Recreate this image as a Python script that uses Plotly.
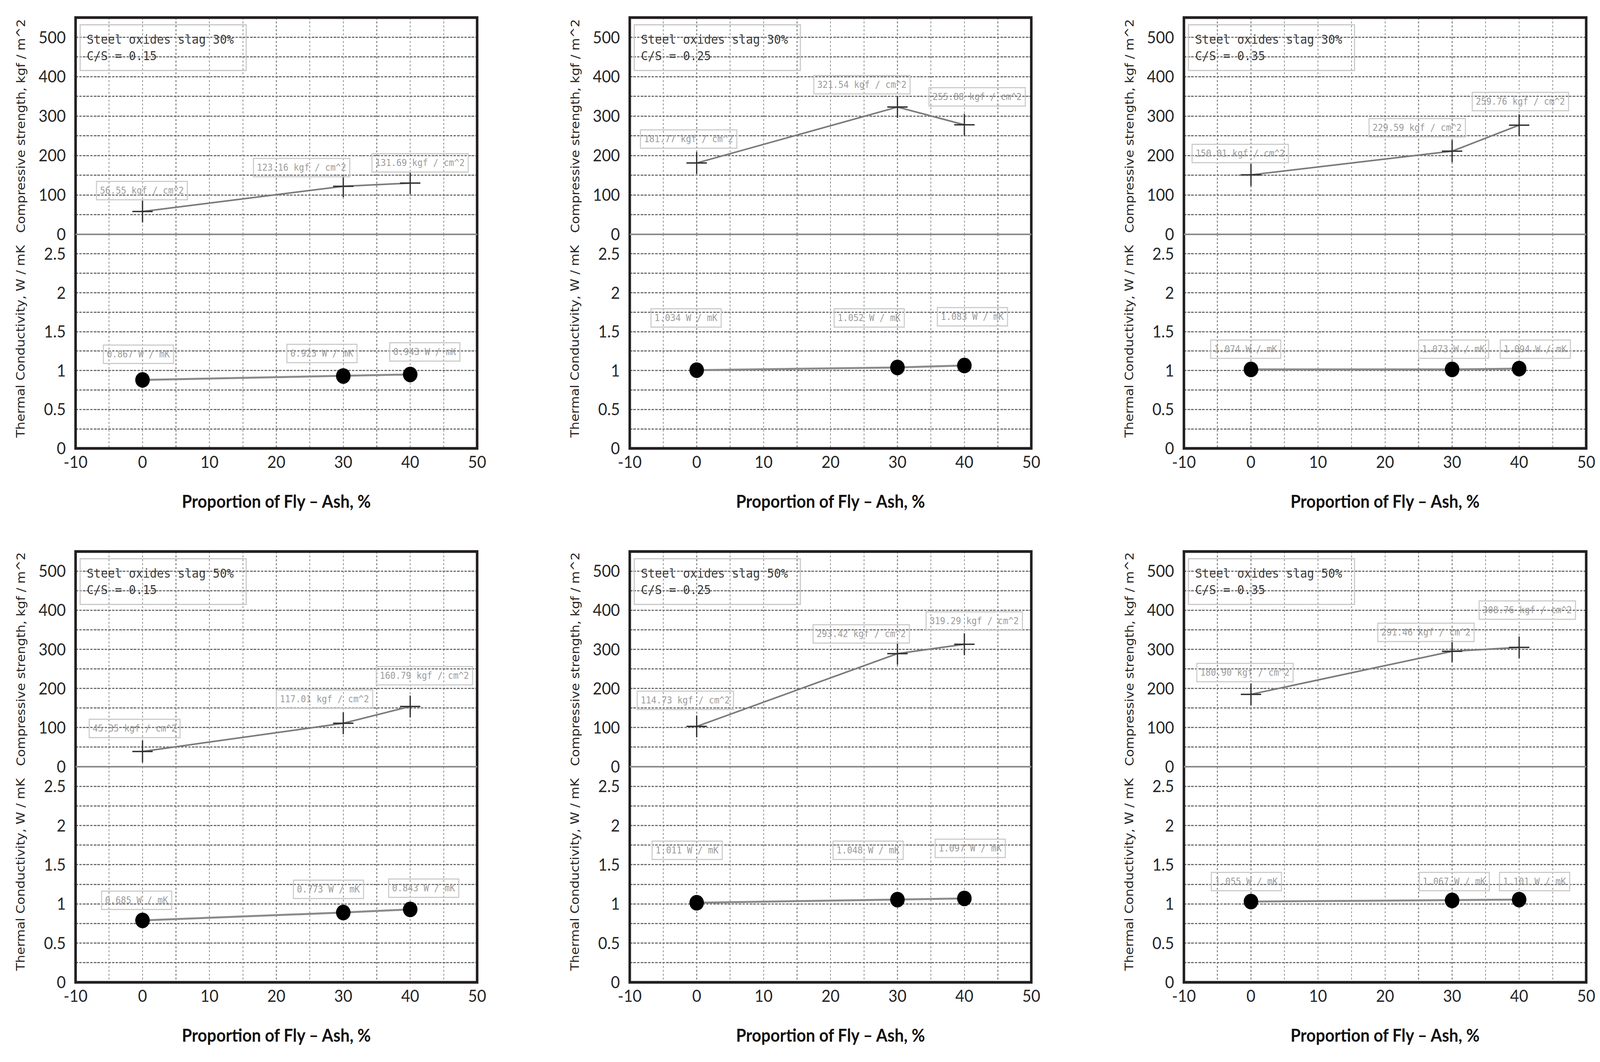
import plotly.graph_objects as go

# ---------------- data ----------------
fly_ash = [0, 30, 40]
slag_share = ["30%", "30%", "30%", "50%", "50%", "50%"]
cs_ratio = ["0.15", "0.25", "0.35", "0.15", "0.25", "0.35"]
x_tick_vals = [-10, 0, 10, 20, 30, 40, 50]
x_tick_text = ["-10", "0", "10", "20", "30", "40", "50"]

# plotted compressive strength (kgf/cm^2)
strength = [
    [58, 122, 130],
    [181, 323, 278],
    [151, 211, 277],
    [39, 111, 154],
    [103, 289, 313],
    [185, 295, 305],
]
strength_text = [
    ["56.55", "123.16", "131.69"],
    ["181.77", "321.54", "255.88"],
    ["150.01", "229.59", "259.76"],
    ["45.35", "117.01", "160.79"],
    ["114.73", "293.42", "319.29"],
    ["180.90", "291.46", "308.76"],
]
# plotted thermal conductivity (W/mK)
conductivity = [
    [0.88, 0.93, 0.95],
    [1.005, 1.04, 1.065],
    [1.015, 1.015, 1.025],
    [0.79, 0.89, 0.93],
    [1.015, 1.055, 1.07],
    [1.03, 1.045, 1.055],
]
conductivity_text = [
    ["0.867", "0.923", "0.943"],
    ["1.034", "1.052", "1.083"],
    ["1.074", "1.073", "1.094"],
    ["0.685", "0.773", "0.843"],
    ["1.011", "1.048", "1.097"],
    ["1.055", "1.067", "1.101"],
]

# ---------------- label placement (layout) ----------------
strength_label_x = [[-0.1, 23.8, 41.5], [-1.2, 24.7, 41.9], [-1.6, 24.8, 40.2],
                    [-1.2, 27.2, 42.1], [-1.7, 24.6, 41.5], [-0.9, 26.1, 41.2]]
strength_label_y = [[111, 169, 181], [242, 380, 349], [205, 271, 337],
                    [98, 173, 233], [170, 339, 372], [241, 343, 400]]
cond_label_x = [[-0.6, 26.8, 42.2], [-1.6, 25.8, 41.2], [-0.8, 30.2, 42.4],
                [-0.9, 27.8, 42.0], [-1.4, 25.6, 40.9], [-0.7, 30.3, 42.3]]
cond_label_y = [[1.21, 1.22, 1.24], [1.675, 1.675, 1.69], [1.275, 1.275, 1.275],
                [1.045, 1.185, 1.2], [1.685, 1.685, 1.71], [1.285, 1.285, 1.285]]

W, H = 4403, 2719
col_px = [(208, 1313), (1733, 2838), (3258, 4365)]
row_px = [(45, 600, 1148), (1412, 1963, 2515)]  # top, middle, bottom

TICK_FONT = dict(family="Lato, 'Open Sans', sans-serif", size=43, color="#262626")
YTITLE_FONT = dict(family="'DejaVu Sans', Verdana, sans-serif", size=33, color="#262626")
XTITLE_FONT = dict(family="Lato, 'Open Sans', sans-serif", size=45, color="#111111")
MONO = "'DejaVu Sans Mono', monospace"

HGRID = dict(gridcolor="#707070", gridwidth=3, griddash="7px,3px")
VGRID = dict(gridcolor="#8f8f8f", gridwidth=2.5, griddash="5px,5px")

fig = go.Figure()
layout = {}
annotations = []
shapes = []


def py_to_paper(y):
    return 1 - y / H


for i in range(6):
    r, c = divmod(i, 3)
    xl, xr = col_px[c]
    yt, ym, yb = row_px[r]
    xn = i + 1
    yt_n = 2 * i + 1
    yb_n = 2 * i + 2
    xref = "x" if xn == 1 else f"x{xn}"
    ytop_ref = "y" if yt_n == 1 else f"y{yt_n}"
    ybot_ref = f"y{yb_n}"
    xkey = "xaxis" if xn == 1 else f"xaxis{xn}"
    ytop_key = "yaxis" if yt_n == 1 else f"yaxis{yt_n}"
    ybot_key = f"yaxis{yb_n}"

    fig.add_trace(go.Scatter(
        x=fly_ash, y=strength[i], xaxis=xref, yaxis=ytop_ref,
        mode="lines+markers", showlegend=False, cliponaxis=False,
        line=dict(color="#7a7a7a", width=4),
        marker=dict(symbol="cross-thin", size=40, color="#2e2e2e",
                    line=dict(color="#2e2e2e", width=3.5)),
    ))
    fig.add_trace(go.Scatter(
        x=fly_ash, y=conductivity[i], xaxis=xref, yaxis=ybot_ref,
        mode="lines+markers", showlegend=False, cliponaxis=False,
        line=dict(color="#8a8a8a", width=5),
        marker=dict(symbol="circle", size=40, color="#000000"),
    ))

    layout[xkey] = dict(
        domain=[xl / W, xr / W], anchor=ybot_ref, range=[-10, 50], automargin=False,
        tickmode="array", tickvals=x_tick_vals, ticktext=x_tick_text,
        ticks="", showline=False, zeroline=False, showgrid=True, **VGRID,
        minor=dict(tickmode="linear", tick0=-10, dtick=5, showgrid=True, ticks="", **VGRID),
        tickfont=TICK_FONT, ticklabelstandoff=6,
        title=dict(text="<b>Proportion of Fly – Ash, %</b>", font=XTITLE_FONT, standoff=62),
    )
    layout[ytop_key] = dict(
        domain=[py_to_paper(ym), py_to_paper(yt)], anchor=xref, range=[0, 550],
        automargin=False,
        tickmode="linear", tick0=0, dtick=100, ticks="", showline=False,
        zeroline=False, showgrid=True, **HGRID,
        minor=dict(tick0=0, dtick=50, showgrid=True, ticks="", **HGRID),
        tickfont=TICK_FONT, ticklabelstandoff=26,
        title=dict(text="Compressive strength, kgf / m^2", font=YTITLE_FONT, standoff=26),
    )
    layout[ybot_key] = dict(
        domain=[py_to_paper(yb), py_to_paper(ym)], anchor=xref, range=[0, 2.75],
        automargin=False,
        tickmode="linear", tick0=0, dtick=0.5, ticks="", showline=False,
        zeroline=False, showgrid=True, **HGRID,
        minor=dict(tick0=0, dtick=0.25, showgrid=True, ticks="", **HGRID),
        tickfont=TICK_FONT, ticklabelstandoff=26,
        title=dict(text="Thermal Conductivity, W / mK", font=YTITLE_FONT, standoff=42),
    )

    # frame and separator
    shapes.append(dict(type="rect", xref="paper", yref="paper",
                       x0=xl / W, x1=xr / W, y0=py_to_paper(yb), y1=py_to_paper(yt),
                       line=dict(color="#231f20", width=7), layer="above"))
    shapes.append(dict(type="line", xref="paper", yref="paper",
                       x0=xl / W, x1=xr / W, y0=py_to_paper(ym), y1=py_to_paper(ym),
                       line=dict(color="#8a8a8a", width=4), layer="above"))

    # info box
    annotations.append(dict(
        xref=f"{xref} domain", yref=f"{ytop_ref} domain", x=0, y=1,
        xanchor="left", yanchor="top", xshift=11, yshift=-17,
        text=f"Steel oxides slag {slag_share[i]}<br>C/S = {cs_ratio[i]}",
        align="left", width=420, showarrow=False,
        font=dict(family=MONO, size=32, color="#3c3c3c"),
        bordercolor="#c8c8c8", borderwidth=3, borderpad=17,
    ))
    # value labels
    for k in range(len(fly_ash)):
        annotations.append(dict(
            xref=xref, yref=ytop_ref, x=strength_label_x[i][k], y=strength_label_y[i][k],
            text=f"{strength_text[i][k]} kgf / cm^2", showarrow=False,
            xanchor="center", yanchor="middle",
            font=dict(family=MONO, size=24, color="#9c9c9c"),
            bordercolor="#cccccc", borderwidth=3, borderpad=8,
        ))
        annotations.append(dict(
            xref=xref, yref=ybot_ref, x=cond_label_x[i][k], y=cond_label_y[i][k],
            text=f"{conductivity_text[i][k]} W / mK", showarrow=False,
            xanchor="center", yanchor="middle",
            font=dict(family=MONO, size=24, color="#9c9c9c"),
            bordercolor="#cccccc", borderwidth=3, borderpad=8,
        ))

fig.update_layout(
    width=W, height=H,
    margin=dict(l=0, r=0, t=0, b=0, autoexpand=False),
    paper_bgcolor="white", plot_bgcolor="white",
    showlegend=False,
    annotations=annotations, shapes=shapes,
    **layout,
)

# fit the fixed-size figure exactly onto the browser viewport
FIT_SCRIPT = """
var gd = document.getElementById('{plot_id}');
var vw = window.innerWidth, vh = window.innerHeight;
var sx = vw / %d, sy = vh / %d;
document.documentElement.style.margin = '0';
document.documentElement.style.padding = '0';
document.documentElement.style.overflow = 'hidden';
document.body.style.margin = '0';
document.body.style.padding = '0';
document.body.style.overflow = 'hidden';
var wrap = gd.parentElement;
wrap.style.width = vw + 'px';
wrap.style.height = vh + 'px';
wrap.style.overflow = 'hidden';
gd.style.transformOrigin = '0 0';
gd.style.transform = 'scale(' + sx + ',' + sy + ')';
""" % (W, H)

fig.write_html("out.html", post_script=FIT_SCRIPT,
               config={"displayModeBar": False, "staticPlot": True})
